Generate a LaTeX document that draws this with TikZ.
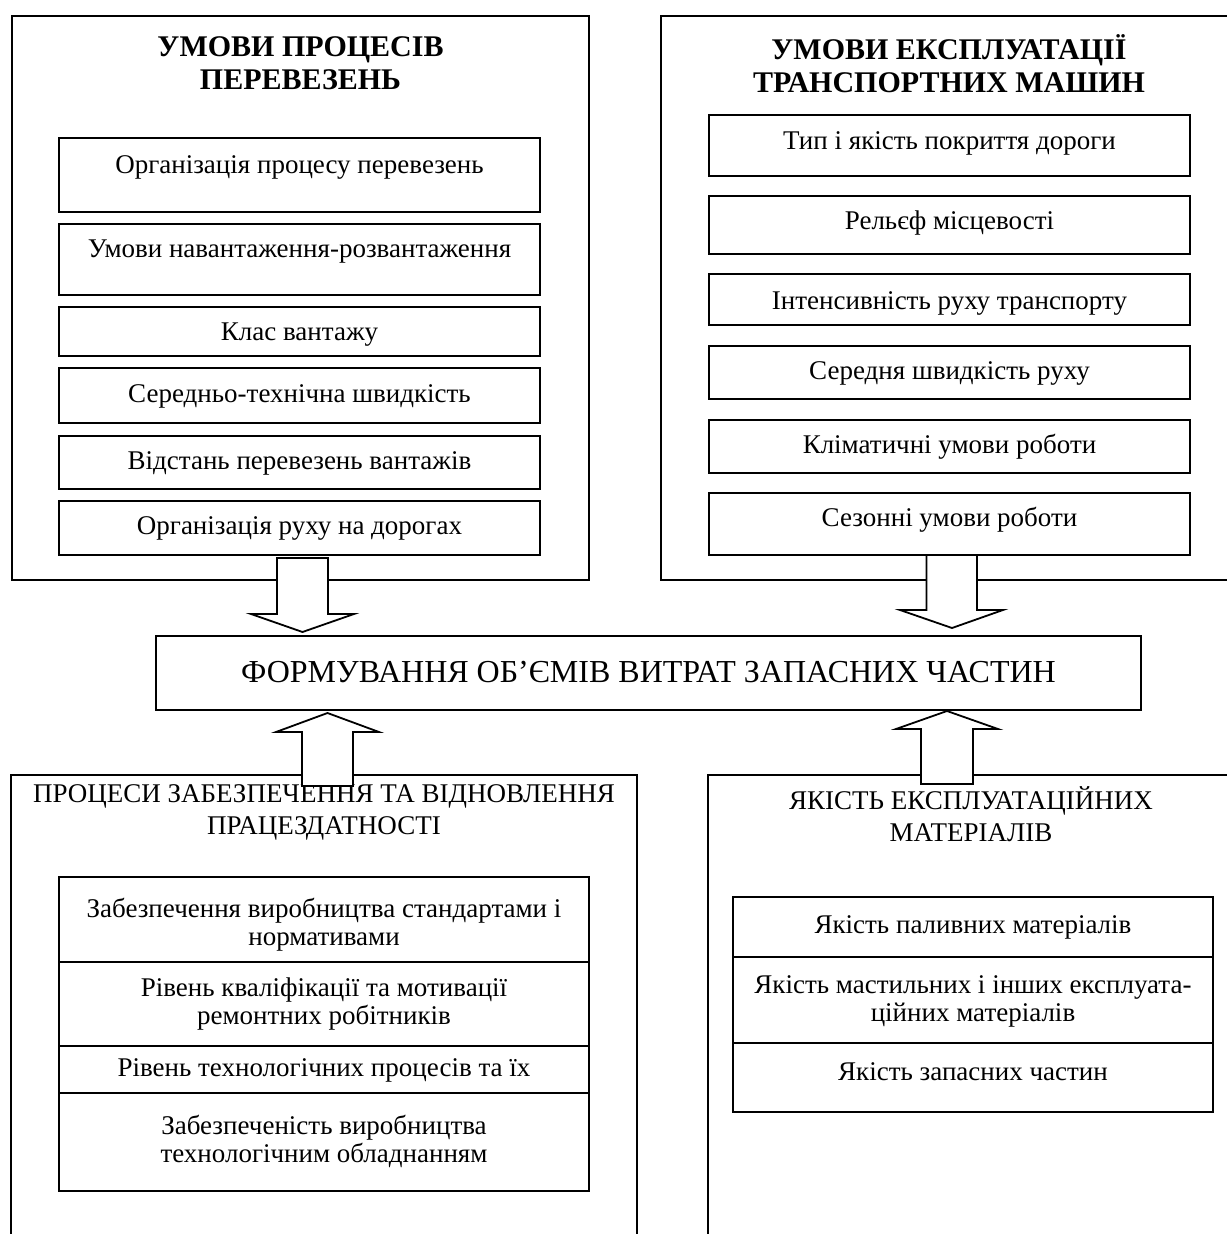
\documentclass[tikz,border=0pt]{standalone}
\usepackage{fontspec}
\setmainfont{Liberation Serif}
\usetikzlibrary{fit}
\begin{document}
\begin{tikzpicture}[x=1pt,y=-1pt,line width=1.8pt,
  frame/.style={draw, inner sep=0pt, outer sep=0pt},
  body/.style={font=\fontsize{27}{28}\selectfont, align=center, inner sep=0pt},
  head/.style={font=\fontsize{30}{33}\selectfont\bfseries, align=center, inner sep=0pt},
  lowhead/.style={font=\fontsize{27}{32}\selectfont, align=center, inner sep=0pt},
  bigtxt/.style={font=\fontsize{32}{34}\selectfont, align=center, inner sep=0pt},
  blockarrow/.style={draw, fill=white, line join=miter}]
\useasboundingbox (0,0) rectangle (1226,1234);

% ---------- top left
\node[frame, fit={(12,16) (589,580)}] (tl) {};
\node[head] (tlh) at (300.5,63.5) {УМОВИ ПРОЦЕСІВ\\ПЕРЕВЕЗЕНЬ};
\node[frame, fit={(59,138) (540,212)}] (b1) {};
\node[body] (b1t) at (299.5,167) {Організація процесу перевезень};
\node[frame, fit={(59,224) (540,295)}] (b2) {};
\node[body] (b2t) at (299.5,252) {Умови навантаження-розвантаження};
\node[frame, fit={(59,307) (540,356)}] (b3) {};
\node[body] (b3t) at (299.5,335) {Клас вантажу};
\node[frame, fit={(59,368) (540,423)}] (b4) {};
\node[body] (b4t) at (299.5,396) {Середньо-технічна швидкість};
\node[frame, fit={(59,436) (540,489)}] (b5) {};
\node[body] (b5t) at (299.5,463) {Відстань перевезень вантажів};
\node[frame, fit={(59,501) (540,555)}] (b6) {};
\node[body] (b6t) at (299.5,528) {Організація руху на дорогах};

% ---------- top right
\node[frame, fit={(661,16) (1240,580)}] (tr) {};
\node[head] (trh) at (949,63.5) {УМОВИ ЕКСПЛУАТАЦІЇ\\ТРАНСПОРТНИХ МАШИН};
\node[frame, fit={(709,115) (1190,176)}] (r1) {};
\node[body] (r1t) at (949.5,143) {Тип і якість покриття дороги};
\node[frame, fit={(709,196) (1190,254)}] (r2) {};
\node[body] (r2t) at (949.5,223) {Рельєф місцевості};
\node[frame, fit={(709,274) (1190,325)}] (r3) {};
\node[body] (r3t) at (949.5,303) {Інтенсивність руху транспорту};
\node[frame, fit={(709,346) (1190,399)}] (r4) {};
\node[body] (r4t) at (949.5,373) {Середня швидкість руху};
\node[frame, fit={(709,420) (1190,473)}] (r5) {};
\node[body] (r5t) at (949.5,447) {Кліматичні умови роботи};
\node[frame, fit={(709,493) (1190,555)}] (r6) {};
\node[body] (r6t) at (949.5,520) {Сезонні умови роботи};

% ---------- centre
\node[frame, fit={(156,636) (1141,710)}] (mid) {};
\node[bigtxt] (midt) at (648.5,672) {ФОРМУВАННЯ ОБ’ЄМІВ ВИТРАТ ЗАПАСНИХ ЧАСТИН};

% ---------- bottom left
\node[frame, fit={(11,775) (637,1250)}] (bl) {};
\node[lowhead] (blh) at (324,812) {ПРОЦЕСИ ЗАБЕЗПЕЧЕННЯ ТА ВІДНОВЛЕННЯ\\ПРАЦЕЗДАТНОСТІ};
\node[frame, fit={(59,877) (589,962)}] (l1) {};
\node[body] (l1t) at (324,925) {Забезпечення виробництва стандартами і\\нормативами};
\node[frame, fit={(59,962) (589,1046)}] (l2) {};
\node[body] (l2t) at (324,1004) {Рівень кваліфікації та мотивації\\ремонтних робітників};
\node[frame, fit={(59,1046) (589,1093)}] (l3) {};
\node[body] (l3t) at (324,1070) {Рівень технологічних процесів та їх};
\node[frame, fit={(59,1093) (589,1191)}] (l4) {};
\node[body] (l4t) at (324,1141.5) {Забезпеченість виробництва\\технологічним обладнанням};

% ---------- bottom right
\node[frame, fit={(708,775) (1250,1250)}] (br) {};
\node[lowhead] (brh) at (971,814) {ЯКІСТЬ ЕКСПЛУАТАЦІЙНИХ\\МАТЕРІАЛІВ};
\node[frame, fit={(733,897) (1213,957)}] (q1) {};
\node[body] (q1t) at (973,927) {Якість паливних матеріалів};
\node[frame, fit={(733,957) (1213,1043)}] (q2) {};
\node[body] (q2t) at (973,1001) {Якість мастильних і інших експлуата-\\ційних матеріалів};
\node[frame, fit={(733,1043) (1213,1112)}] (q3) {};
\node[body] (q3t) at (973,1072) {Якість запасних частин};

% ---------- block arrows
\draw[blockarrow] (277,558) -- (328,558) -- (328,614) -- (354,614) -- (302.5,632) -- (251,614) -- (277,614) -- cycle;
\draw[blockarrow] (926.5,555) -- (977,555) -- (977,610) -- (1003,610) -- (952,628) -- (900,610) -- (926.5,610) -- cycle;
\draw[blockarrow] (302,786) -- (353,786) -- (353,732) -- (379,732) -- (327.5,713) -- (276,732) -- (302,732) -- cycle;
\draw[blockarrow] (921,784) -- (973,784) -- (973,729) -- (998,729) -- (947,711) -- (896,729) -- (921,729) -- cycle;
\end{tikzpicture}
\end{document}
